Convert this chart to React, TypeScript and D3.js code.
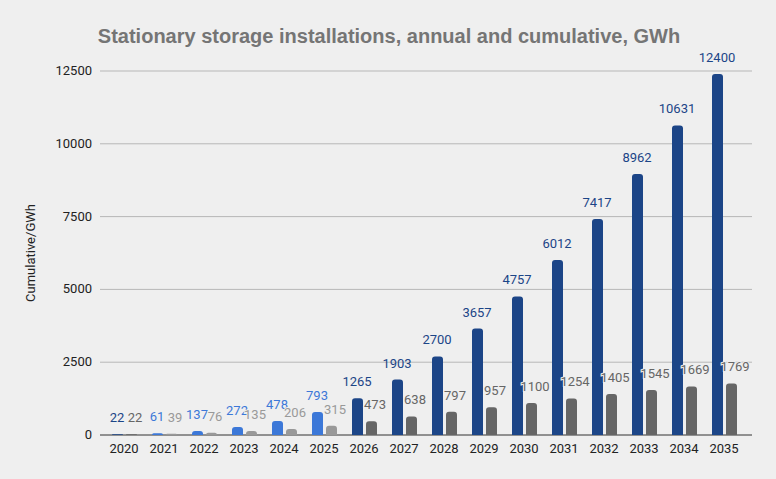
import React from 'react';
import * as d3 from 'd3';

const years = ['2020','2021','2022','2023','2024','2025','2026','2027','2028','2029','2030','2031','2032','2033','2034','2035'];
const cumulative = [22,61,137,272,478,793,1265,1903,2700,3657,4757,6012,7417,8962,10631,12400];
const annual = [22,39,76,135,206,315,473,638,797,957,1100,1254,1405,1545,1669,1769];
const yTicks = [0,2500,5000,7500,10000,12500];
const lightYears = ['2021','2022','2023','2024','2025'];

const W = 776, H = 479;
const x = d3.scaleBand().domain(years).range([104, 744]);
const y = d3.scaleLinear().domain([0, 12500]).range([435, 71]);

function topRounded(x0: number, y0: number, w: number, h: number, r: number) {
  const rr = Math.min(r, h);
  const p = d3.path();
  p.moveTo(x0, y0 + h);
  p.lineTo(x0, y0 + rr);
  p.quadraticCurveTo(x0, y0, x0 + rr, y0);
  p.lineTo(x0 + w - rr, y0);
  p.quadraticCurveTo(x0 + w, y0, x0 + w, y0 + rr);
  p.lineTo(x0 + w, y0 + h);
  p.closePath();
  return p.toString();
}

const App: React.FC = () => {
  const font = 'Roboto, Arial, sans-serif';
  return (
    <svg width={W} height={H} style={{ position: 'absolute', left: 0, top: 0 }} fontFamily={font}>
      <rect width={W} height={H} fill="#efefef" />
      <text x={389} y={43} textAnchor="middle" fontSize={20} fontWeight="bold" fill="#757575"
        fontFamily="'Liberation Sans', Arial, sans-serif">
        Stationary storage installations, annual and cumulative, GWh
      </text>
      {yTicks.map(t => (
        <g key={t}>
          <line x1={100} x2={752} y1={y(t)} y2={y(t)} stroke={t === 0 ? '#333' : '#b7b7b7'} strokeWidth={1} />
          <text x={92} y={y(t) + 4} textAnchor="end" fontSize={13} fill="#222">{t}</text>
        </g>
      ))}
      <text transform="translate(35,253) rotate(-90)" textAnchor="middle" fontSize={13} fill="#222">Cumulative/GWh</text>
      {years.map((yr, i) => {
        const cx = x(yr)! + x.bandwidth() / 2;
        const light = lightYears.includes(yr);
        const cCol = light ? '#3c78d8' : '#1c4587';
        const aCol = light ? '#999999' : '#666666';
        const bw = 11;
        const cy = y(cumulative[i]);
        const ay = y(annual[i]);
        return (
          <g key={yr}>
            <path d={topRounded(cx - 12, cy, bw, 435 - cy, 3)} fill={cCol} />
            <path d={topRounded(cx + 2, ay, bw, 435 - ay, 3)} fill={aCol} />
            <text x={cx - 7} y={cy - 12} textAnchor="middle" fontSize={13} fill={cCol}>{cumulative[i]}</text>
            <text x={cx + 11} y={ay - 12} textAnchor="middle" fontSize={13} fill={aCol}
              stroke="#efefef" strokeWidth={2} paintOrder="stroke">{annual[i]}</text>
            <text x={cx} y={453} textAnchor="middle" fontSize={13} fill="#222">{yr}</text>
          </g>
        );
      })}
    </svg>
  );
};

export default App;
